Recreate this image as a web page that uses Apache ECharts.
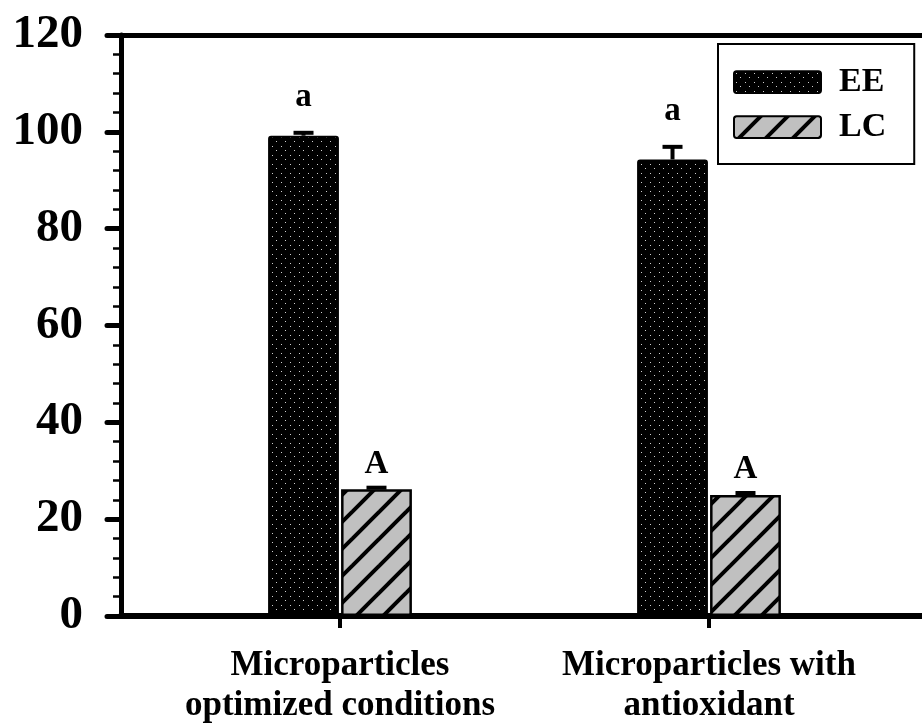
<!DOCTYPE html>
<html>
<head>
<meta charset="utf-8">
<script src="https://cdn.jsdelivr.net/npm/echarts@6/dist/echarts.min.js"></script>
<style>
html,body{margin:0;padding:0;background:#fff;}
#chart{width:922px;height:724px;}
</style>
</head>
<body>
<div id="chart"></div>
<script>
// ---- data ----
const categories = ['Microparticles\noptimized conditions', 'Microparticles with\nantioxidant'];
const seriesNames = ['EE', 'LC'];
const eeValues = [99.2, 94.3];
const eeErrors = [0.6, 2.6];
const lcValues = [26.2, 25.0];
const lcErrors = [0.3, 0.4];
const eeLetters = ['a', 'a'];
const lcLetters = ['A', 'A'];
const yMin = 0, yMax = 120, yStep = 20;

// ---- patterns ----
function dotPattern() {
  const c = document.createElement('canvas');
  c.width = 9; c.height = 9;
  const g = c.getContext('2d');
  g.fillStyle = '#000'; g.fillRect(0, 0, 9, 9);
  g.fillStyle = '#cfcfcf';
  g.fillRect(2, 2, 1, 1);
  g.fillRect(6, 6, 1, 1);
  return c;
}
function hatchPattern() {
  const s = 27;
  const c = document.createElement('canvas');
  c.width = s; c.height = s;
  const g = c.getContext('2d');
  g.fillStyle = '#c0c0c0'; g.fillRect(0, 0, s, s);
  g.strokeStyle = '#000'; g.lineWidth = 4;
  [[-s, s, 0, 0], [0, s, s, 0], [0, 2 * s, 2 * s, 0]].forEach(function (l) {
    g.beginPath(); g.moveTo(l[0] - 4, l[1] + 4); g.lineTo(l[2] + 4, l[3] - 4); g.stroke();
  });
  return c;
}

const FONT = '"Liberation Serif", "Times New Roman", serif';
const BAR_FRAC = 0.192, GAP_FRAC = 0.03;
const LEGEND_ICON = 'path://M3,0 L97,0 Q100,0 100,3 L100,22 Q100,25 97,25 L3,25 Q0,25 0,22 L0,3 Q0,0 3,0 Z';

function errSeries(name, values, errors, letters, sign, letterGap) {
  return {
    type: 'custom', name: name, xAxisIndex: 0, yAxisIndex: 0, z: 10,
    data: values.map(function (v, i) { return [i, v, errors[i], letters[i]]; }),
    renderItem: function (params, api) {
      const band = api.size([1, 0])[0];
      const bw = band * BAR_FRAC;
      const off = sign * (bw + bw * GAP_FRAC) / 2;
      const x = api.coord([api.value(0), 0])[0] + off;
      const yBar = api.coord([api.value(0), api.value(1)])[1];
      const yTop = api.coord([api.value(0), api.value(1) + api.value(2)])[1];
      const letter = letters[params.dataIndex];
      return {
        type: 'group',
        children: [
          { type: 'line', shape: { x1: x, y1: yBar, x2: x, y2: yTop }, style: { stroke: '#000', lineWidth: 4 } },
          { type: 'line', shape: { x1: x - 10, y1: yTop, x2: x + 10, y2: yTop }, style: { stroke: '#000', lineWidth: 4 } },
          { type: 'text', style: { text: letter, x: x, y: yTop - letterGap, textAlign: 'center', textVerticalAlign: 'bottom', font: 'bold 33px ' + FONT, fill: '#000' } }
        ]
      };
    }
  };
}

const chart = echarts.init(document.getElementById('chart'));
chart.setOption({
  animation: false,
  backgroundColor: '#fff',
  grid: [
    { left: 155.5, right: 28.5, top: 35, bottom: 108, containLabel: false, outerBoundsMode: 'none' },
    { left: 121, right: -10, top: 35, bottom: 108, containLabel: false, outerBoundsMode: 'none' }
  ],
  legend: {
    data: seriesNames,
    orient: 'vertical',
    left: 718, top: 44,
    padding: [21, 28, 20, 15],
    borderColor: '#000', borderWidth: 2,
    itemWidth: 87, itemHeight: 22, itemGap: 11,
    icon: LEGEND_ICON,
    textStyle: { fontFamily: FONT, fontWeight: 'bold', fontSize: 34, color: '#000', padding: [0, 0, 0, 13] }
  },
  xAxis: [
    {
      type: 'category', gridIndex: 0, data: categories,
      axisLine: { show: false },
      axisTick: { show: true, alignWithLabel: true, length: 12, lineStyle: { color: '#000', width: 4 } },
      axisLabel: { fontFamily: FONT, fontWeight: 'bold', fontSize: 35, lineHeight: 40, color: '#000', margin: 30, interval: 0 },
      splitLine: { show: false }
    },
    {
      type: 'value', gridIndex: 1, min: 0, max: 1, position: 'bottom',
      axisLine: { show: true, lineStyle: { color: '#000', width: 6 } },
      axisTick: { show: false }, axisLabel: { show: false }, splitLine: { show: false }
    },
    {
      type: 'value', gridIndex: 1, min: 0, max: 1, position: 'top',
      axisLine: { show: true, lineStyle: { color: '#000', width: 5 } },
      axisTick: { show: false }, axisLabel: { show: false }, splitLine: { show: false }
    }
  ],
  yAxis: [
    { type: 'value', gridIndex: 0, min: yMin, max: yMax, interval: yStep, show: false },
    {
      type: 'value', gridIndex: 1, min: yMin, max: yMax, interval: yStep,
      axisLine: { show: true, lineStyle: { color: '#000', width: 5 } },
      axisTick: { show: true, length: 14, lineStyle: { color: '#000', width: 5, cap: 'round' } },
      minorTick: { show: true, splitNumber: 5, length: 8, lineStyle: { color: '#000', width: 2.5 } },
      axisLabel: { fontFamily: FONT, fontWeight: 'bold', fontSize: 47, color: '#000', margin: 38 },
      splitLine: { show: false }, minorSplitLine: { show: false }
    }
  ],
  series: [
    {
      name: 'EE', type: 'bar', xAxisIndex: 0, yAxisIndex: 0,
      data: eeValues, barWidth: (BAR_FRAC * 100) + '%', barGap: (GAP_FRAC * 100) + '%',
      itemStyle: { color: { image: dotPattern(), repeat: 'repeat' }, borderColor: '#000', borderWidth: 2, borderRadius: 2 }
    },
    {
      name: 'LC', type: 'bar', xAxisIndex: 0, yAxisIndex: 0,
      data: lcValues, barWidth: (BAR_FRAC * 100) + '%', barGap: (GAP_FRAC * 100) + '%',
      itemStyle: { color: { image: hatchPattern(), repeat: 'repeat' }, borderColor: '#000', borderWidth: 2.5 }
    },
    errSeries('EE err', eeValues, eeErrors, eeLetters, -1, 19),
    errSeries('LC err', lcValues, lcErrors, lcLetters, 1, 7)
  ]
});
</script>
</body>
</html>
